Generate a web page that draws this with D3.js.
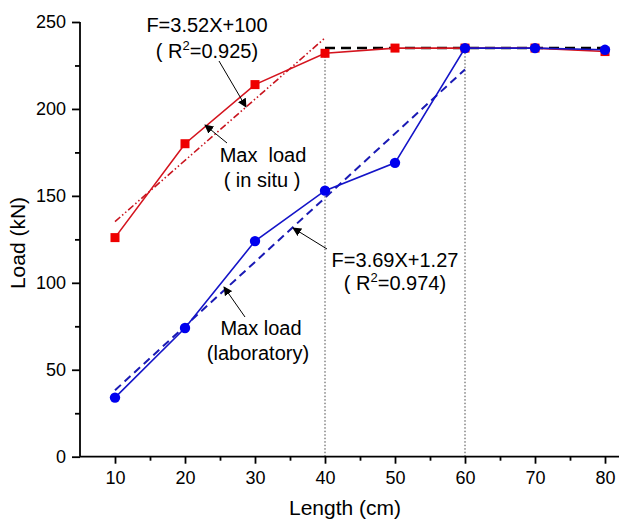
<!DOCTYPE html>
<html>
<head>
<meta charset="utf-8">
<script src="https://cdn.jsdelivr.net/npm/d3@7"></script>
<style>
  body { margin: 0; background: #fff; }
  svg { font-family: "Liberation Sans", Arial, sans-serif; }
</style>
</head>
<body>
<svg id="chart" width="619" height="526"></svg>
<script>
// data
const lengths = [10, 20, 30, 40, 50, 60, 70, 80];
const loadInSitu = [126, 180, 214, 232, 235, 235, 235, 233];
const loadLaboratory = [34, 74, 124, 153, 169, 235, 235, 234];

// linear fits printed on the chart (endpoints of the drawn lines)
const fitInSituX = [10, 40];
const fitInSituY = [135.2, 240.8];
const fitLabX = [10, 60];
const fitLabY = [38.2, 222.7];

// plateau + guide lines
const plateauX = [40, 80];
const plateauLoad = 235;
const guideX = [40, 60];
const guideTop = [232, 235];

const xTicks = [10, 20, 30, 40, 50, 60, 70, 80];
const xMinor = [15, 25, 35, 45, 55, 65, 75];
const yTicks = [0, 50, 100, 150, 200, 250];
const yMinor = [25, 75, 125, 175, 225];

const svg = d3.select("#chart");

// scales
const x = d3.scaleLinear().domain([5, 82]).range([80, 619]);
const y = d3.scaleLinear().domain([0, 250]).range([456.7, 22]);

// arrow marker
svg.append("defs")
  .append("marker")
  .attr("id", "arrow")
  .attr("viewBox", "0 0 10 10")
  .attr("refX", 9)
  .attr("refY", 5)
  .attr("markerWidth", 9)
  .attr("markerHeight", 9)
  .attr("markerUnits", "userSpaceOnUse")
  .attr("orient", "auto")
  .append("path")
  .attr("d", "M0,0 L10,5 L0,10 z")
  .attr("fill", "black");

// dotted guides
svg.append("g")
  .selectAll("line")
  .data(guideX)
  .join("line")
  .attr("x1", (d) => x(d))
  .attr("x2", (d) => x(d))
  .attr("y1", y(0))
  .attr("y2", (d, i) => y(guideTop[i]))
  .attr("stroke", "#444")
  .attr("stroke-width", 1)
  .attr("stroke-dasharray", "1.5,2");

// axes
const xAxis = d3.axisBottom(x).tickValues(xTicks).tickSize(7).tickPadding(8);
const xAxisMinor = d3.axisBottom(x).tickValues(xMinor).tickSize(4).tickFormat("");
const yAxis = d3.axisLeft(y).tickValues(yTicks).tickSize(8).tickPadding(6);
const yAxisMinor = d3.axisLeft(y).tickValues(yMinor).tickSize(5).tickFormat("");

function styleAxis(g) {
  g.selectAll("path, line").attr("stroke", "black").attr("stroke-width", 1.8);
  g.selectAll("text").attr("font-size", 18).attr("fill", "black")
    .attr("font-family", "Liberation Sans, Arial, sans-serif");
}

svg.append("g").attr("transform", `translate(0,${y(0)})`).call(xAxisMinor)
  .call(styleAxis).call((g) => g.select(".domain").remove());
svg.append("g").attr("transform", `translate(0,${y(0)})`).call(xAxis)
  .call(styleAxis)
  .call((g) => g.select(".domain").attr("d", `M${x(5)},0H619`));
svg.append("g").attr("transform", `translate(${x(5)},0)`).call(yAxisMinor)
  .call(styleAxis).call((g) => g.select(".domain").remove());
svg.append("g").attr("transform", `translate(${x(5)},0)`).call(yAxis)
  .call(styleAxis)
  .call((g) => g.select(".domain").attr("d", `M0,${y(250)}V${y(0)}`));

// axis titles
svg.append("text")
  .attr("x", 345)
  .attr("y", 515)
  .attr("text-anchor", "middle")
  .attr("font-size", 21)
  .text("Length (cm)");

svg.append("g")
  .attr("transform", `translate(25, ${243})`)
  .append("text")
  .attr("text-anchor", "middle")
  .attr("transform", "rotate(-90)")
  .attr("font-size", 21)
  .text("Load (kN)");

const line = d3.line().x((d) => x(d[0])).y((d) => y(d[1]));

// plateau (black dashed)
svg.append("path")
  .attr("d", line(plateauX.map((v) => [v, plateauLoad])))
  .attr("fill", "none")
  .attr("stroke", "black")
  .attr("stroke-width", 2.5)
  .attr("stroke-dasharray", "10,6");

// fit lines
svg.append("path")
  .attr("d", line(fitInSituX.map((v, i) => [v, fitInSituY[i]])))
  .attr("fill", "none")
  .attr("stroke", "#c8141e")
  .attr("stroke-width", 1.6)
  .attr("stroke-dasharray", "7,2.5,1.5,2.5,1.5,2.5");

svg.append("path")
  .attr("d", line(fitLabX.map((v, i) => [v, fitLabY[i]])))
  .attr("fill", "none")
  .attr("stroke", "#1a1ab4")
  .attr("stroke-width", 2)
  .attr("stroke-dasharray", "8,5");

// measured series
const inSituPts = lengths.map((v, i) => [v, loadInSitu[i]]);
const labPts = lengths.map((v, i) => [v, loadLaboratory[i]]);

svg.append("path")
  .attr("d", line(inSituPts))
  .attr("fill", "none")
  .attr("stroke", "#d4141e")
  .attr("stroke-width", 1.6);

svg.append("g")
  .selectAll("rect")
  .data(inSituPts)
  .join("rect")
  .attr("x", (d) => x(d[0]) - 4.5)
  .attr("y", (d) => y(d[1]) - 4.5)
  .attr("width", 9)
  .attr("height", 9)
  .attr("fill", "#ee0000");

svg.append("path")
  .attr("d", line(labPts))
  .attr("fill", "none")
  .attr("stroke", "#1414c8")
  .attr("stroke-width", 1.6);

svg.append("g")
  .selectAll("circle")
  .data(labPts)
  .join("circle")
  .attr("cx", (d) => x(d[0]))
  .attr("cy", (d) => y(d[1]))
  .attr("r", 5.2)
  .attr("fill", "#0000ee");

// annotations
const arrows = [
  [219, 61, 246, 107],
  [227, 143, 205, 125],
  [327, 249, 293, 228],
  [245, 317, 224, 287],
];
svg.append("g")
  .selectAll("line")
  .data(arrows)
  .join("line")
  .attr("x1", (d) => d[0])
  .attr("y1", (d) => d[1])
  .attr("x2", (d) => d[2])
  .attr("y2", (d) => d[3])
  .attr("stroke", "black")
  .attr("stroke-width", 1)
  .attr("marker-end", "url(#arrow)");

const labels = [
  [207, 32, "F=3.52X+100"],
  [263, 162, "Max  load"],
  [262, 187, "( in situ )"],
  [395, 267, "F=3.69X+1.27"],
  [261, 335, "Max load"],
  [258, 360, "(laboratory)"],
];
svg.append("g")
  .selectAll("text")
  .data(labels)
  .join("text")
  .attr("x", (d) => d[0])
  .attr("y", (d) => d[1])
  .attr("text-anchor", "middle")
  .attr("font-size", 20)
  .attr("xml:space", "preserve")
  .style("white-space", "pre")
  .text((d) => d[2]);

// R² labels with superscript
const r2 = [
  [207, 58, "0.925"],
  [395, 290, "0.974"],
];
r2.forEach(([cx, cy, v]) => {
  const t = svg.append("text")
    .attr("x", cx)
    .attr("y", cy)
    .attr("text-anchor", "middle")
    .attr("font-size", 20);
  t.append("tspan").text("( R");
  t.append("tspan").attr("font-size", 13).attr("dy", -8).text("2");
  t.append("tspan").attr("dy", 8).text("=" + v + ")");
});
</script>
</body>
</html>
